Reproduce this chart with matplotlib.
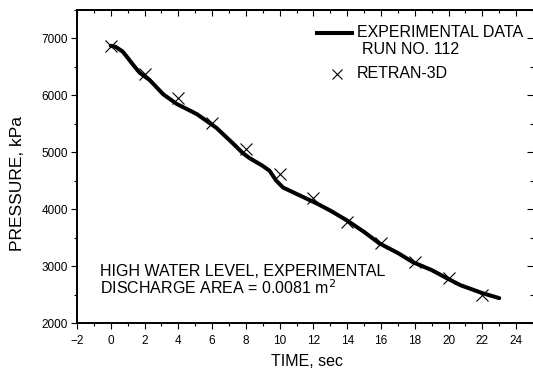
import matplotlib
matplotlib.use("Agg")
import matplotlib.pyplot as plt
from matplotlib.ticker import MultipleLocator

plt.rcParams['font.family'] = ['Liberation Sans', 'DejaVu Sans']

# measured pressure trace, run 112
exp_time = [0.0, 0.3, 0.7, 1.0, 1.3, 1.7, 2.3, 3.1, 3.9, 5.1, 6.25, 7.2, 7.8,
            8.2, 9.0, 9.4, 9.8, 10.2, 11.2, 12.2, 13.0, 14.0, 15.0, 15.9,
            17.0, 17.9, 19.0, 19.9, 20.7, 22.0, 23.0]
exp_pressure = [6870, 6850, 6770, 6660, 6545, 6400, 6270, 6020, 5850, 5670,
                5430, 5165, 4990, 4900, 4760, 4675, 4500, 4380, 4240, 4100,
                3975, 3800, 3600, 3400, 3230, 3067, 2930, 2787, 2665, 2525,
                2437]

# code prediction
calc_time = [0, 2, 4, 6, 8, 10, 12, 14, 16, 18, 20, 22]
calc_pressure = [6860, 6380, 5960, 5510, 5060, 4620, 4190, 3770, 3400, 3080,
                 2790, 2500]

fig = plt.figure(figsize=(5.33, 3.70), dpi=100)
ax = fig.add_axes([0.1445, 0.127, 0.8555, 0.846])

ax.plot(exp_time, exp_pressure, color='black', lw=2.9,
        solid_capstyle='round', solid_joinstyle='round')
ax.plot(calc_time, calc_pressure, ls='none', marker='x', ms=8, mew=0.8,
        color='black')

ax.set_xlim(-2, 25)
ax.set_ylim(2000, 7500)
ax.xaxis.set_major_locator(MultipleLocator(2))
ax.xaxis.set_minor_locator(MultipleLocator(1))
ax.yaxis.set_major_locator(MultipleLocator(1000))
ax.yaxis.set_minor_locator(MultipleLocator(500))

ax.tick_params(which='both', direction='out', top=False, right=False,
               labelsize=8.5, width=0.8, color='black')
ax.tick_params(which='major', length=4.5, pad=2)
ax.tick_params(axis='x', which='major', pad=4)
ax.tick_params(which='minor', length=2.5)

# inward ticks on the top and right edges
sec_x = ax.secondary_xaxis('top')
sec_x.xaxis.set_major_locator(MultipleLocator(2))
sec_x.xaxis.set_minor_locator(MultipleLocator(1))
sec_x.tick_params(which='both', direction='in', labeltop=False, width=0.8)
sec_x.tick_params(which='major', length=4)
sec_x.tick_params(which='minor', length=2.5)
sec_y = ax.secondary_yaxis('right')
sec_y.yaxis.set_major_locator(MultipleLocator(1000))
sec_y.yaxis.set_minor_locator(MultipleLocator(500))
sec_y.tick_params(which='both', direction='in', labelright=False, width=0.8)
sec_y.tick_params(which='major', length=4)
sec_y.tick_params(which='minor', length=2.5)

for side in ['left', 'bottom', 'top']:
    ax.spines[side].set_linewidth(1.4)
ax.spines['right'].set_visible(False)
sec_x.spines['top'].set_linewidth(1.4)
sec_y.spines['right'].set_visible(False)

ax.set_xlabel('TIME, sec', fontsize=11.5)
ax.xaxis.set_label_coords(0.505, -0.098)
ax.set_ylabel('PRESSURE, kPa', fontsize=12.5)
ax.yaxis.set_label_coords(-0.114, 0.447)

# legend drawn by hand so the line sits on the first text row
ax.plot([0.527, 0.603], [0.927, 0.927], transform=ax.transAxes,
        color='black', lw=2.9)
ax.text(0.614, 0.927, 'EXPERIMENTAL DATA', transform=ax.transAxes,
        fontsize=11.5, va='center', ha='left')
ax.text(0.625, 0.873, 'RUN NO. 112', transform=ax.transAxes,
        fontsize=11.5, va='center', ha='left')
ax.plot([0.570], [0.796], transform=ax.transAxes, ls='none', marker='x',
        ms=7, mew=0.8, color='black')
ax.text(0.614, 0.796, 'RETRAN-3D', transform=ax.transAxes,
        fontsize=11.5, va='center', ha='left')

ax.text(0.05, 0.163, 'HIGH WATER LEVEL, EXPERIMENTAL', transform=ax.transAxes,
        fontsize=11.5, va='center', ha='left')
ax.text(0.05, 0.112, 'DISCHARGE AREA = 0.0081 m$^2$', transform=ax.transAxes,
        fontsize=11.5, va='center', ha='left')

fig.savefig('out.png', dpi=100)
